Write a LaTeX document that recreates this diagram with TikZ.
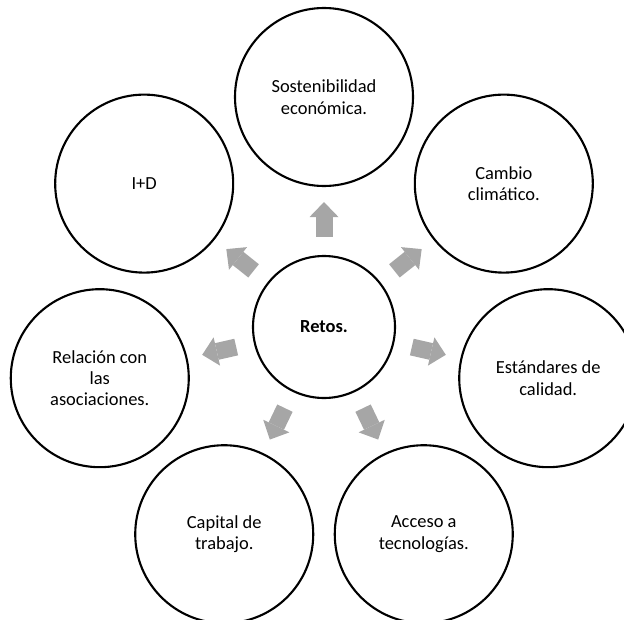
\documentclass[tikz,border=0pt]{standalone}
\usepackage{fontspec}
\setmainfont{Carlito}
\usetikzlibrary{arrows.meta}

\definecolor{flechagris}{HTML}{A6A6A6}

\begin{document}
\begin{tikzpicture}[
    reto/.style={circle, draw, line width=1.2pt, minimum size=3.56cm,
        inner sep=0pt, align=center, font=\fontsize{10.5}{12.2}\selectfont},
    centro/.style={reto, minimum size=2.84cm, font=\fontsize{10.5}{12.2}\selectfont\bfseries},
    flecha/.style={draw=flechagris, line width=0.34cm,
        -{Triangle[line width=0pt, width=0.58cm, length=0.3cm]},
        shorten <=0.36cm, shorten >=0.3cm},
]
    \useasboundingbox (-6.48,-5.84) rectangle (6.0,6.54);

    \node[centro] (R) {Retos.};

    \node[reto] at (90:4.6)      (S) {Sostenibilidad\\económica.};
    \node[reto] at (38.57:4.6)   (C) {Cambio\\climático.};
    \node[reto] at (-12.86:4.6)  (E) {Estándares de\\calidad.};
    \node[reto] at (-64.29:4.6)  (A) {Acceso a\\tecnologías.};
    \node[reto] at (-115.71:4.6) (K) {Capital de\\trabajo.};
    \node[reto] at (-167.14:4.6) (L) {Relación con\\las\\asociaciones.};
    \node[reto] at (141.43:4.6)  (I) {I+D};

    \draw[flecha] (R) -- (S);
    \draw[flecha] (R) -- (C);
    \draw[flecha] (R) -- (E);
    \draw[flecha] (R) -- (A);
    \draw[flecha] (R) -- (K);
    \draw[flecha] (R) -- (L);
    \draw[flecha] (R) -- (I);
\end{tikzpicture}
\end{document}
